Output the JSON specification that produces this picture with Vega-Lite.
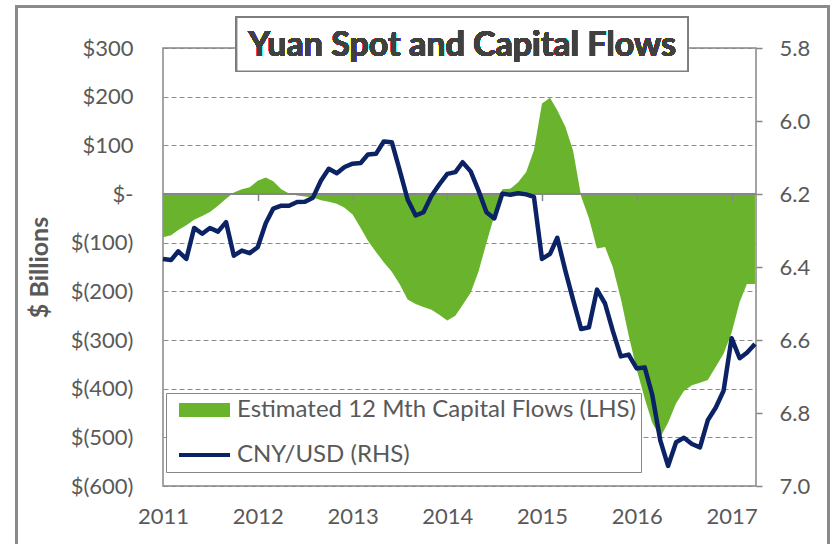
{
  "$schema": "https://vega.github.io/schema/vega-lite/v6.json",
  "width": 593,
  "height": 438,
  "autosize": {"type": "none"},
  "padding": {"left": 163, "top": 48, "right": 81, "bottom": 58},
  "background": "white",
  "config": {
    "font": "Lato",
    "view": {"stroke": "#868686", "strokeWidth": 1.5},
    "axis": {"labelFont": "Lato", "labelFontSize": 22, "labelColor": "#595959"}
  },
  "data": {"values": [
    {"date": "2011-01-01", "flows": -89, "cny": 6.378},
    {"date": "2011-02-01", "flows": -85, "cny": 6.381},
    {"date": "2011-03-01", "flows": -74, "cny": 6.357},
    {"date": "2011-04-01", "flows": -64, "cny": 6.378},
    {"date": "2011-05-01", "flows": -53, "cny": 6.293},
    {"date": "2011-06-01", "flows": -45, "cny": 6.309},
    {"date": "2011-07-01", "flows": -37, "cny": 6.293},
    {"date": "2011-08-01", "flows": -24, "cny": 6.303},
    {"date": "2011-09-01", "flows": -10, "cny": 6.277},
    {"date": "2011-10-01", "flows": 3, "cny": 6.369},
    {"date": "2011-11-01", "flows": 10, "cny": 6.355},
    {"date": "2011-12-01", "flows": 14, "cny": 6.362},
    {"date": "2012-01-01", "flows": 27, "cny": 6.346},
    {"date": "2012-02-01", "flows": 34, "cny": 6.28},
    {"date": "2012-03-01", "flows": 26, "cny": 6.24},
    {"date": "2012-04-01", "flows": 10, "cny": 6.232},
    {"date": "2012-05-01", "flows": 1, "cny": 6.232},
    {"date": "2012-06-01", "flows": -3, "cny": 6.222},
    {"date": "2012-07-01", "flows": -5, "cny": 6.221},
    {"date": "2012-08-01", "flows": -7, "cny": 6.21},
    {"date": "2012-09-01", "flows": -13, "cny": 6.163},
    {"date": "2012-10-01", "flows": -16, "cny": 6.131},
    {"date": "2012-11-01", "flows": -20, "cny": 6.143},
    {"date": "2012-12-01", "flows": -28, "cny": 6.126},
    {"date": "2013-01-01", "flows": -42, "cny": 6.117},
    {"date": "2013-02-01", "flows": -70, "cny": 6.115},
    {"date": "2013-03-01", "flows": -96, "cny": 6.092},
    {"date": "2013-04-01", "flows": -119, "cny": 6.09},
    {"date": "2013-05-01", "flows": -140, "cny": 6.056},
    {"date": "2013-06-01", "flows": -160, "cny": 6.058},
    {"date": "2013-07-01", "flows": -185, "cny": 6.134},
    {"date": "2013-08-01", "flows": -217, "cny": 6.215},
    {"date": "2013-09-01", "flows": -226, "cny": 6.259},
    {"date": "2013-10-01", "flows": -232, "cny": 6.25},
    {"date": "2013-11-01", "flows": -238, "cny": 6.205},
    {"date": "2013-12-01", "flows": -248, "cny": 6.174},
    {"date": "2014-01-01", "flows": -260, "cny": 6.145},
    {"date": "2014-02-01", "flows": -250, "cny": 6.14},
    {"date": "2014-03-01", "flows": -228, "cny": 6.113},
    {"date": "2014-04-01", "flows": -203, "cny": 6.138},
    {"date": "2014-05-01", "flows": -160, "cny": 6.19},
    {"date": "2014-06-01", "flows": -100, "cny": 6.25},
    {"date": "2014-07-01", "flows": -45, "cny": 6.267},
    {"date": "2014-08-01", "flows": 10, "cny": 6.199},
    {"date": "2014-09-01", "flows": 11, "cny": 6.202},
    {"date": "2014-10-01", "flows": 24, "cny": 6.198},
    {"date": "2014-11-01", "flows": 45, "cny": 6.201},
    {"date": "2014-12-01", "flows": 90, "cny": 6.208},
    {"date": "2015-01-01", "flows": 186, "cny": 6.378},
    {"date": "2015-02-01", "flows": 198, "cny": 6.364},
    {"date": "2015-03-01", "flows": 172, "cny": 6.32},
    {"date": "2015-04-01", "flows": 138, "cny": 6.41},
    {"date": "2015-05-01", "flows": 89, "cny": 6.49},
    {"date": "2015-06-01", "flows": -5, "cny": 6.57},
    {"date": "2015-07-01", "flows": -50, "cny": 6.565},
    {"date": "2015-08-01", "flows": -112, "cny": 6.462},
    {"date": "2015-09-01", "flows": -109, "cny": 6.5},
    {"date": "2015-10-01", "flows": -150, "cny": 6.575},
    {"date": "2015-11-01", "flows": -215, "cny": 6.645},
    {"date": "2015-12-01", "flows": -290, "cny": 6.64},
    {"date": "2016-01-01", "flows": -360, "cny": 6.678},
    {"date": "2016-02-01", "flows": -420, "cny": 6.675},
    {"date": "2016-03-01", "flows": -470, "cny": 6.75},
    {"date": "2016-04-01", "flows": -500, "cny": 6.875},
    {"date": "2016-05-01", "flows": -470, "cny": 6.945},
    {"date": "2016-06-01", "flows": -430, "cny": 6.88},
    {"date": "2016-07-01", "flows": -405, "cny": 6.868},
    {"date": "2016-08-01", "flows": -393, "cny": 6.885},
    {"date": "2016-09-01", "flows": -388, "cny": 6.894},
    {"date": "2016-10-01", "flows": -382, "cny": 6.82},
    {"date": "2016-11-01", "flows": -355, "cny": 6.785},
    {"date": "2016-12-01", "flows": -328, "cny": 6.739},
    {"date": "2017-01-01", "flows": -285, "cny": 6.595},
    {"date": "2017-02-01", "flows": -222, "cny": 6.65},
    {"date": "2017-03-01", "flows": -185, "cny": 6.635},
    {"date": "2017-04-01", "flows": -185, "cny": 6.611}
  ]},
  "layer": [
    {
      "mark": {"type": "rect", "fill": null, "fillOpacity": 0, "stroke": "#8a8a8a", "strokeWidth": 2, "clip": false},
      "encoding": {
        "x": {"datum": {"year": 2009, "month": 6, "date": 16, "utc": true}, "type": "temporal", "scale": {"type": "utc", "domain": [{"year": 2011, "month": 1, "date": 1, "utc": true}, {"year": 2017, "month": 4, "date": 5, "utc": true}]}, "axis": null},
        "x2": {"datum": {"year": 2018, "month": 1, "date": 10, "utc": true}},
        "y": {"datum": 385, "type": "quantitative", "scale": {"domain": [-600, 300], "nice": false, "zero": false}, "axis": null},
        "y2": {"datum": -740}
      }
    },
    {
      "mark": {"type": "area", "interpolate": "linear"},
      "encoding": {
        "x": {"field": "date", "type": "temporal",
          "scale": {"type": "utc", "domain": [{"year": 2011, "month": 1, "date": 1, "utc": true}, {"year": 2017, "month": 4, "date": 5, "utc": true}]},
          "axis": {"values": [{"year": 2011, "month": 1, "date": 1, "utc": true}, {"year": 2012, "month": 1, "date": 1, "utc": true}, {"year": 2013, "month": 1, "date": 1, "utc": true}, {"year": 2014, "month": 1, "date": 1, "utc": true}, {"year": 2015, "month": 1, "date": 1, "utc": true}, {"year": 2016, "month": 1, "date": 1, "utc": true}, {"year": 2017, "month": 1, "date": 1, "utc": true}],
            "format": "%Y", "formatType": "utc", "labelFlush": false, "labelOverlap": false, "ticks": false, "domain": false, "grid": false, "labelPadding": 20, "title": null}},
        "y": {"field": "flows", "type": "quantitative",
          "scale": {"domain": [-600, 300], "nice": false, "zero": false},
          "axis": {"values": [-600, -500, -400, -300, -200, -100, 0, 100, 200, 300],
            "labelExpr": "datum.value > 0 ? '$' + datum.value : (datum.value == 0 ? '$-' : '$(' + (-datum.value) + ')')",
            "ticks": false, "domain": false, "grid": true, "gridDash": [5, 3], "gridColor": "#8c8c8c", "gridWidth": 1,
            "labelPadding": 30, "title": "$ Billions", "titleFontSize": 25, "titleFontWeight": "bold", "titleColor": "#595959", "titleFont": "Lato", "titlePadding": 18}},
        "color": {"datum": "Estimated 12 Mth Capital Flows (LHS)", "type": "nominal",
          "scale": {"domain": ["Estimated 12 Mth Capital Flows (LHS)", "CNY/USD (RHS)"], "range": ["#6ab42d", "#0b2265"]},
          "legend": {"orient": "none", "legendX": 3, "legendY": 345, "title": null, "fillColor": "white", "strokeColor": "#868686",
            "padding": 5, "labelFontSize": 24, "labelColor": "#595959", "labelFont": "Lato", "labelLimit": 0,
            "symbolType": "M-1,-0.275H1V0.275H-1Z", "symbolSize": 2601, "symbolStrokeWidth": 0, "symbolOffset": 8,
            "clipHeight": 24, "rowPadding": 21, "labelOffset": 7, "direction": "vertical",
            "encode": {"symbols": {"update": {
              "shape": {"signal": "datum.value == 'CNY/USD (RHS)' ? 'M-1,-0.08H1V0.08H-1Z' : 'M-1,-0.275H1V0.275H-1Z'"},
              "fill": {"signal": "datum.value == 'CNY/USD (RHS)' ? '#0b2265' : '#6ab42d'"},
              "fillOpacity": {"value": 1},
              "strokeOpacity": {"value": 0}}}}}}
      }
    },
    {
      "mark": {"type": "rule", "color": "#868686", "strokeWidth": 1.5},
      "encoding": {
        "y": {"datum": 0, "type": "quantitative", "scale": {"domain": [-600, 300], "nice": false, "zero": false}, "axis": null}
      }
    },
    {
      "mark": {"type": "line", "strokeWidth": 4.5, "strokeJoin": "round"},
      "encoding": {
        "x": {"field": "date", "type": "temporal",
          "scale": {"type": "utc", "domain": [{"year": 2011, "month": 1, "date": 1, "utc": true}, {"year": 2017, "month": 4, "date": 5, "utc": true}]},
          "axis": {"orient": "top", "offset": -145.5, "labels": false, "domain": false, "grid": false, "ticks": true, "tickSize": -7, "tickColor": "#868686", "tickWidth": 1.5, "zindex": 1, "title": null,
            "values": [{"year": 2012, "month": 1, "date": 1, "utc": true}, {"year": 2013, "month": 1, "date": 1, "utc": true}, {"year": 2014, "month": 1, "date": 1, "utc": true}, {"year": 2015, "month": 1, "date": 1, "utc": true}, {"year": 2016, "month": 1, "date": 1, "utc": true}, {"year": 2017, "month": 1, "date": 1, "utc": true}]}},
        "y": {"field": "cny", "type": "quantitative",
          "scale": {"domain": [5.8, 7.0], "reverse": true, "nice": false, "zero": false},
          "axis": {"orient": "right", "values": [5.8, 6.0, 6.2, 6.4, 6.6, 6.8, 7.0], "format": ".1f", "ticks": true, "tickSize": 6, "tickColor": "#868686", "tickWidth": 1.5, "domain": false, "grid": false, "labelPadding": 17, "title": null}},
        "color": {"datum": "CNY/USD (RHS)", "type": "nominal"}
      }
    },
    {
      "mark": {"type": "rect", "fill": "white", "stroke": "#7f7f7f", "strokeWidth": 1.5, "clip": false},
      "encoding": {
        "x": {"datum": {"year": 2011, "month": 10, "date": 12, "utc": true}, "type": "temporal", "scale": {"type": "utc", "domain": [{"year": 2011, "month": 1, "date": 1, "utc": true}, {"year": 2017, "month": 4, "date": 5, "utc": true}]}, "axis": null},
        "x2": {"datum": {"year": 2016, "month": 7, "date": 16, "utc": true}},
        "y": {"datum": 363, "type": "quantitative", "scale": {"domain": [-600, 300], "nice": false, "zero": false}, "axis": null},
        "y2": {"datum": 252}
      }
    },
    {
      "mark": {"type": "text", "font": "Lato", "fontSize": 34, "fontWeight": "bold", "color": "#404040", "align": "center", "baseline": "middle", "clip": false},
      "encoding": {
        "x": {"datum": {"year": 2014, "month": 2, "date": 27, "utc": true}, "type": "temporal", "scale": {"type": "utc", "domain": [{"year": 2011, "month": 1, "date": 1, "utc": true}, {"year": 2017, "month": 4, "date": 5, "utc": true}]}, "axis": null},
        "y": {"datum": 305, "type": "quantitative", "scale": {"domain": [-600, 300], "nice": false, "zero": false}, "axis": null},
        "text": {"value": "Yuan Spot and Capital Flows"}
      }
    }
  ],
  "resolve": {"scale": {"y": "independent"}, "axis": {"x": "independent"}}
}
